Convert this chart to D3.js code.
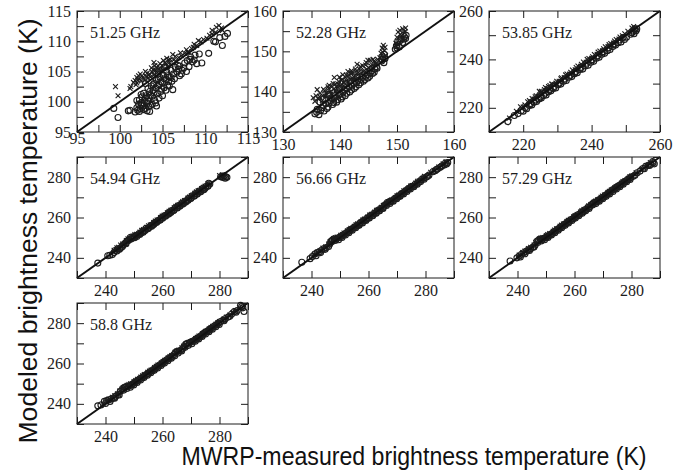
<!DOCTYPE html>
<html>
<head>
<meta charset="utf-8">
<script src="https://cdn.jsdelivr.net/npm/d3@7"></script>
<style>
  body { margin: 0; background: #fff; }
</style>
</head>
<body>
<script>
// panel titles and axis setup
const panelNames = ['51.25 GHz', '52.28 GHz', '53.85 GHz', '54.94 GHz', '56.66 GHz', '57.29 GHz', '58.8 GHz'];
const panelDomains = [[95, 115], [130, 160], [210, 260], [230, 290], [230, 290], [230, 290], [230, 290]];
const tickSteps = [2.5, 5, 10, 10, 10, 10, 10];
const tickLabels = [
    [95, 100, 105, 110, 115],
    [130, 140, 150, 160],
    [220, 240, 260],
    [240, 260, 280],
    [240, 260, 280],
    [240, 260, 280],
    [240, 260, 280]
];

// [measured, modeled] pairs
// 51.25 GHz
const f5125Cross = [[99.5,102.5],[99.8,101],[101.2,102.2],[101.3,102.5],[102,104],[102.2,104.3],[104,106.5],[105.5,107.2],[108,108.3],[108.7,109.5],[110.8,111.8],[111.3,112.3],[111.6,112.6],[111.9,112.2],[112,111.8],
    [101.6,103.2],[101.8,103.5],[102.0,103.1],[102.3,103.8],[102.5,103.4],[102.7,104.0],[102.9,103.6],[103.1,104.2],[103.3,103.9],[103.5,104.6],[103.6,104.1],[103.8,104.9],[104.0,104.4],[104.2,105.2],[104.4,104.8],[104.6,105.5],[104.8,105.1],[105.0,105.9],[105.2,105.4],[105.4,106.2],[105.6,105.8],[105.8,106.5],[106.0,106.1],[106.3,106.9],[106.6,106.7],[106.9,107.3],[107.2,107.6],[107.6,108.0],[108.0,108.2],[108.4,108.8],[109.0,109.3],[109.5,109.9],[110.2,110.5],[110.8,111.2],[111.2,111.5],[103.0,105.0],[104.1,106.0],[102.4,104.6],[103.7,105.6],[105.1,106.8],
    [102.1,103.6],[102.6,104.3],[103.2,104.7],[103.9,105.3],[104.5,105.9],[105.3,106.5],[105.9,107.0],[106.5,107.5],[107.1,108.1],[107.8,108.6],[108.6,109.0],[109.2,110.1],[109.8,110.3],[110.5,111.0],[101.9,102.8],[103.4,104.4],[104.7,106.3],[106.2,107.8],[104.3,105.6],[105.7,106.9]];
const f5125Circle = [[99.3,98.9],[99.8,97.4],[101.0,98.5],[101.2,98.6],[103.5,98.4],[104.3,99.3],[106.2,102.0],[107.0,104.3],
    [101.8,98.3],[102.0,99.0],[102.1,98.6],[102.2,99.6],[102.3,100.3],[102.4,98.9],[102.5,99.8],[102.6,100.8],[102.7,99.3],[102.8,101.4],[102.9,100.2],[103.0,98.9],[103.1,101.0],[103.2,99.7],[103.3,102.2],[103.4,100.6],[103.5,101.7],[103.6,99.4],[103.7,102.6],[103.8,100.9],[103.9,101.9],[104.0,103.0],[104.1,100.2],[104.2,102.3],[104.3,103.6],[104.4,101.3],[104.6,102.8],[104.7,104.0],[104.8,101.7],[105.0,103.2],[105.1,104.4],[105.2,102.3],[105.4,103.7],[105.5,104.9],[105.6,102.7],[105.8,104.1],[106.0,105.2],[106.1,103.4],[106.3,104.6],[106.5,105.7],[106.7,104.9],[107.0,105.9],[107.3,105.2],[107.6,106.4],[107.9,106.8],[108.1,105.8],[108.3,107.4],[108.5,106.6],[108.8,107.7],[109.0,106.3],[109.6,106.4],[110.4,108.0],[111.0,110.0],[111.2,109.9],[112.0,109.3],[111.7,110.6],[112.6,111.3],[112.3,110.8],[103.0,103.0],[104.5,104.6],[105.2,105.7],
    [102.0,100.2],[102.3,98.4],[102.5,101.2],[102.8,98.7],[103.0,100.6],[103.2,98.5],[103.4,99.2],[103.6,101.1],[103.8,99.6],[104.0,101.5],[104.2,99.8],[104.4,102.6],[104.6,100.6],[104.8,103.3],[105.0,101.0],[105.2,103.8],[105.4,101.9],[105.6,104.3],[105.8,102.6],[106.0,104.0],[106.4,103.8],[106.8,106.0],[107.2,104.6],[107.5,105.6],[107.8,105.0],[108.2,107.0],[108.7,106.9],[109.3,107.9],[102.6,99.5],[103.3,100.1],[104.9,102.1],[105.7,103.3],[103.9,102.8],[104.5,103.8],[106.9,105.4]];

// 52.28 GHz
const f5228Cross = [[135.3,138.5],[135.8,139.0],[136.2,138.2],[136.5,139.6],[137.0,139.0],[137.3,140.2],[137.6,139.5],[138.0,140.8],[138.3,140.0],[138.6,141.3],[138.9,140.6],[139.2,141.9],[139.5,141.0],[139.8,142.5],[140.1,141.6],[140.4,143.0],[140.7,142.2],[141.0,143.5],[141.3,142.6],[141.6,144.0],[141.9,143.1],[142.2,144.6],[142.5,143.6],[142.8,145.0],[143.1,144.1],[143.4,145.6],[143.7,144.7],[144.0,146.4],[144.3,145.2],[144.6,147.2],[145.0,146.0],[145.3,147.8],[145.7,146.6],[146.0,147.6],[146.3,146.8],[147.2,149.5],[147.4,150.8],[147.6,151.5],[147.8,150.2],[148.0,149.0],[149.8,152.0],[150.0,153.5],[150.2,154.8],[150.5,155.2],[150.8,153.8],[151.0,155.6],[151.3,154.6],[151.5,155.8],[149.9,151.2],[139.0,143.5],[140.5,144.2],[142.0,145.2],[136.0,140.5],
    [135.6,137.6],[136.4,138.8],[136.9,137.8],[137.4,138.9],[137.9,141.2],[138.4,139.4],[138.8,142.0],[139.3,140.2],[139.7,141.8],[140.2,142.8],[140.6,141.4],[141.1,144.1],[141.5,142.4],[141.9,144.6],[142.3,143.2],[142.7,145.6],[143.2,144.8],[143.6,146.2],[144.1,145.0],[144.5,146.6],[144.9,147.8],[145.4,146.4],[145.8,148.0],[146.2,147.0],[146.6,148.0],[147.0,148.4],[147.5,149.8],[147.9,151.0],[150.1,151.8],[150.6,154.2],[151.1,153.0],[151.4,155.0],[138.1,141.6],[139.9,143.6],[141.4,145.0],[143.0,146.8],[137.1,140.6],[140.3,140.8],[142.6,142.8],[144.8,145.4]];
const f5228Circle = [[135.6,134.5],[136.3,134.3],[136.0,135.6],[136.8,136.0],[137.2,135.2],[137.5,137.0],[137.9,136.2],[138.3,137.8],[138.7,136.8],[139.0,138.4],[139.4,137.4],[139.8,139.2],[140.2,138.2],[140.5,139.8],[140.9,139.0],[141.3,140.7],[141.7,139.9],[142.1,141.4],[142.5,140.8],[142.9,142.2],[143.3,141.7],[143.7,143.0],[144.1,142.6],[144.5,143.8],[144.9,143.4],[145.3,144.6],[145.7,144.5],[146.1,145.6],[146.5,145.8],[147.3,147.6],[147.5,148.6],[147.7,147.2],[147.9,148.2],[149.7,150.5],[149.9,151.4],[150.1,152.3],[150.4,151.1],[150.7,153.0],[151.0,152.2],[151.3,153.6],[151.6,154.0],[137.0,138.2],[139.5,140.4],[141.0,142.0],[143.0,143.6],[138.2,139.0],
    [135.9,134.9],[136.6,135.3],[137.1,136.6],[137.7,135.8],[138.1,137.2],[138.5,138.3],[138.9,137.3],[139.2,139.0],[139.6,138.0],[140.0,139.4],[140.4,138.7],[140.8,140.4],[141.2,139.6],[141.6,141.2],[142.0,140.4],[142.4,142.0],[142.8,141.2],[143.2,142.8],[143.6,142.2],[144.0,143.6],[144.4,143.0],[144.8,144.2],[145.2,143.8],[145.6,145.2],[146.0,144.8],[146.4,146.2],[147.4,148.0],[147.8,149.2],[150.0,150.8],[150.5,152.6],[151.2,153.0],[151.5,153.2],[136.5,137.4],[138.0,139.4],[139.9,140.9],[141.8,142.6]];

// 53.85 GHz
const f5385Cross = [[216.0,215.8],[219.2,220.4],[220.5,221.2],[221.3,222.5],[222.0,222.4],[222.6,223.8],[223.2,223.6],[223.8,225.0],[224.4,224.8],[225.0,226.3],[225.6,226.0],[226.2,227.5],[226.8,227.2],[227.4,228.8],[228.0,228.4],[228.6,229.7],[229.2,229.6],[229.8,231.0],[230.5,231.0],[231.2,232.4],[232.0,232.5],[232.8,234.0],[233.6,234.0],[234.4,235.6],[235.2,235.7],[236.0,237.3],[236.8,237.2],[237.6,238.9],[238.4,238.8],[239.2,240.4],[240.0,240.5],[240.8,242.0],[241.6,242.1],[242.4,243.5],[243.2,243.6],[244.0,245.2],[244.8,245.3],[245.6,246.6],[246.4,246.8],[247.2,248.2],[248.0,248.4],[249.0,249.8],[251.8,253.0],[252.3,253.6],[252.8,252.4],
    [218.0,218.6],[220.0,220.3],[221.8,223.0],[223.5,224.6],[225.3,226.8],[227.0,228.0],[228.3,229.8],[229.6,230.2],[231.0,232.0],[232.4,233.6],[233.9,234.7],[235.5,236.6],[237.0,238.0],[238.7,240.0],[240.3,241.1],[241.9,243.0],[243.5,244.4],[245.1,246.1],[246.7,247.6],[248.3,249.2],[249.7,250.6],[250.6,251.6],[252.0,252.0],[224.7,226.8],[226.5,228.4],[227.8,229.2]];
const f5385Circle = [[215.5,214.3],[218.5,217.6],[220.0,218.6],[221.0,219.6],[221.8,221.0],[222.5,221.2],[223.2,222.3],[223.9,222.6],[224.6,223.6],[225.3,224.0],[226.0,225.1],[226.7,225.3],[227.4,226.6],[228.1,227.0],[228.8,228.0],[229.5,228.2],[230.2,229.5],[231.0,229.8],[231.8,231.0],[232.6,231.3],[233.4,232.6],[234.2,232.9],[235.0,234.1],[235.8,234.5],[236.6,235.8],[237.4,236.0],[238.2,237.3],[239.0,237.6],[239.8,238.8],[240.6,239.2],[241.4,240.5],[242.2,240.9],[243.0,242.1],[243.8,242.5],[244.6,243.6],[245.4,244.1],[246.2,245.3],[247.0,245.9],[247.8,246.9],[248.6,247.2],[249.6,248.2],[251.8,251.0],[252.4,250.6],[253.0,251.8],[252.6,252.6],
    [217.4,216.8],[219.4,218.8],[220.6,220.0],[222.2,221.8],[223.6,223.2],[225.0,224.5],[226.4,226.0],[227.8,227.6],[229.1,228.8],[230.6,230.2],[232.2,231.9],[233.8,233.4],[235.4,235.0],[236.9,236.7],[238.6,238.4],[240.2,239.9],[241.8,241.5],[243.4,243.2],[245.0,244.8],[246.6,246.4],[248.2,248.0],[249.2,249.0],[250.2,249.2],[251.4,250.4],[253.2,252.6],[252.2,251.6]];

// 54.94 GHz
const f5494Cross = [[243.0,243.8],[244.6,245.2],[246.0,246.9],[247.3,248.6],[248.5,249.8],[249.7,250.8],[250.9,251.7],[252.1,252.8],[253.3,254.0],[254.5,255.1],[255.7,256.3],[256.9,257.5],[258.1,258.8],[259.3,260.0],[260.5,261.1],[261.7,262.3],[262.9,263.6],[264.1,264.8],[265.3,266.0],[266.5,267.2],[267.7,268.4],[268.9,269.6],[270.1,270.8],[271.3,272.0],[272.5,273.2],[273.7,274.3],[274.9,275.5],[280.0,280.8],[281.0,281.2],
    [244.0,245.0],[245.3,246.4],[247.9,249.4],[250.3,251.5],[252.7,253.6],[255.1,255.9],[257.5,258.2],[259.9,260.7],[262.3,263.1],[264.7,265.5],[267.1,267.9],[269.5,270.2],[271.9,272.7],[274.3,275.0],[276.0,276.8]];
const f5494Circle = [[237.3,237.4],[240.8,241.0],[241.5,241.3],[242.4,241.6],[243.4,243.6],[244.2,244.4],[244.9,244.2],[245.6,245.3],[246.3,246.6],[247.0,247.4],[247.6,248.3],[248.2,249.0],[248.8,250.2],[249.4,250.0],[250.0,250.6],[250.6,250.9],[251.2,251.3],[251.8,252.0],[252.4,252.2],[253.0,253.1],[253.6,253.4],[254.2,254.6],[254.8,254.5],[255.4,255.2],[256.0,256.1],[256.6,256.3],[257.2,257.4],[257.8,257.6],[258.4,258.5],[259.0,258.8],[259.6,259.8],[260.2,260.0],[260.8,261.0],[261.4,261.1],[262.0,262.2],[262.6,262.3],[263.2,263.4],[263.8,263.5],[264.4,264.7],[265.0,264.8],[265.6,265.9],[266.2,265.8],[266.8,267.1],[267.4,267.0],[268.0,268.2],[268.6,268.4],[269.2,269.5],[269.8,269.4],[270.4,270.7],[271.0,270.6],[271.6,271.9],[272.2,271.7],[272.8,273.1],[273.4,272.8],[274.0,274.2],[274.6,273.9],[275.2,275.4],[275.9,275.5],[276.6,276.6],[280.4,280.2],[281.2,279.8],[282.0,279.5],[282.6,279.9],[281.6,280.6],
    [243.0,242.6],[244.0,243.4],[245.1,244.7],[246.0,245.7],[247.2,247.0],[248.0,248.6],[249.0,249.4],[250.2,250.0],[251.0,250.6],[252.0,251.6],[253.2,252.7],[254.0,253.7],[255.0,254.6],[256.2,255.7],[257.0,256.6],[258.0,257.7],[259.2,258.7],[260.0,259.6],[261.0,260.6],[262.2,261.7],[263.0,262.6],[264.0,263.6],[265.2,264.7],[266.0,265.6],[267.0,266.6],[268.2,267.7],[269.0,268.6],[270.0,269.6],[271.2,270.7],[272.0,271.6],[273.0,272.6],[274.2,273.6],[275.0,274.6],[276.0,275.7],[276.2,277.0],[280.9,280.5],[282.2,280.2]];

// 56.66 GHz
const f5666Cross = [[241.0,241.8],[243.0,243.6],[245.0,245.5],[246.5,247.8],[247.8,249.6],[249.0,250.3],[250.2,251.2],[251.4,252.3],[252.6,253.4],[253.8,254.6],[255.0,255.7],[256.2,256.9],[257.4,258.0],[258.6,259.2],[259.8,260.4],[261.0,261.6],[262.2,262.7],[263.4,263.9],[264.6,265.1],[265.8,266.4],[267.0,267.8],[268.2,268.8],[269.4,269.9],[270.6,271.1],[271.8,272.3],[273.0,273.5],[274.2,274.7],[275.4,275.9],[276.6,277.1],[277.8,278.2],[279.0,279.4],[283.0,283.4],[284.6,285.0],[286.2,286.6],[287.2,287.6],
    [242.0,242.8],[244.0,244.8],[246.0,246.8],[248.4,250.0],[250.8,251.6],[253.2,254.0],[255.6,256.4],[258.0,258.8],[260.4,261.2],[262.8,263.6],[265.2,266.0],[267.6,268.4],[270.0,270.8],[272.4,273.2],[274.8,275.6],[277.2,278.0],[279.6,280.4],[281.8,282.4]];
const f5666Circle = [[236.6,237.8],[239.5,239.6],[240.3,240.6],[241.2,241.9],[242.0,242.6],[242.8,243.0],[243.6,243.9],[244.4,244.6],[245.2,245.1],[246.0,245.6],[246.8,248.2],[247.4,248.9],[248.0,249.4],[248.6,249.2],[249.2,249.8],[249.8,250.2],[250.4,250.6],[251.0,251.2],[251.6,251.8],[252.2,252.4],[252.8,252.9],[253.4,253.6],[254.0,254.1],[254.6,254.8],[255.2,255.2],[255.8,256.0],[256.4,256.3],[257.0,257.2],[257.6,257.5],[258.2,258.5],[258.8,258.7],[259.4,259.6],[260.0,259.9],[260.6,260.8],[261.2,261.0],[261.8,262.0],[262.4,262.2],[263.0,263.2],[263.6,263.4],[264.2,264.4],[264.8,264.6],[265.4,265.6],[266.0,266.4],[266.6,267.4],[267.2,267.6],[267.8,268.0],[268.4,268.3],[269.0,269.2],[269.6,269.5],[270.2,270.4],[270.8,270.7],[271.4,271.6],[272.0,272.0],[272.6,272.8],[273.2,273.4],[273.8,274.1],[274.4,274.5],[275.0,275.3],[275.6,275.5],[276.3,276.4],[277.0,277.0],[277.8,277.6],[278.6,278.8],[279.4,279.6],[280.3,280.1],[281.2,281.0],[282.6,282.7],[283.4,283.2],[284.2,284.0],[285.0,284.8],[285.8,285.6],[286.6,286.0],[287.4,286.5],[287.8,287.3],
    [241.6,241.0],[243.2,242.6],[244.8,244.2],[246.4,246.8],[247.1,248.0],[248.3,248.6],[249.5,249.0],[250.7,250.1],[251.9,251.3],[253.1,252.5],[254.3,253.7],[255.5,254.9],[256.7,256.1],[257.9,257.3],[259.1,258.5],[260.3,259.7],[261.5,260.9],[262.7,262.1],[263.9,263.3],[265.1,264.5],[266.3,266.0],[267.5,267.0],[268.7,268.1],[269.9,269.3],[271.1,270.5],[272.3,271.7],[273.5,272.9],[274.7,274.1],[275.9,275.3],[277.1,276.5],[278.3,277.8],[279.5,279.0],[280.7,280.4],[283.8,283.8],[285.4,285.2],[287.0,287.0]];

// 57.29 GHz
const f5729Cross = [[240.6,241.4],[242.6,243.4],[244.6,245.2],[246.4,247.6],[247.7,249.4],[248.9,250.1],[250.1,251.0],[251.3,252.1],[252.5,253.2],[253.7,254.4],[254.9,255.6],[256.1,256.8],[257.3,258.0],[258.5,259.1],[259.7,260.4],[260.9,261.5],[262.1,262.7],[263.3,263.9],[264.5,265.1],[265.7,266.4],[266.9,267.7],[268.1,268.8],[269.3,270.0],[270.5,271.1],[271.7,272.4],[272.9,273.6],[274.1,274.7],[275.3,275.9],[276.5,277.1],[277.7,278.3],[278.9,279.5],[280.1,280.6],[283.5,283.9],[285.2,285.8],[286.6,287.2],
    [241.8,242.6],[243.8,244.6],[245.8,246.4],[248.2,249.8],[250.6,251.5],[253.0,253.8],[255.4,256.2],[257.8,258.6],[260.2,261.0],[262.6,263.4],[265.0,265.8],[267.4,268.2],[269.8,270.6],[272.2,273.0],[274.6,275.4],[277.0,277.8],[279.4,280.2],[281.6,282.2]];
const f5729Circle = [[237.4,238.4],[239.8,240.0],[240.6,240.9],[241.4,241.8],[242.2,242.5],[243.0,243.2],[243.8,244.0],[244.6,244.5],[245.4,245.3],[246.2,246.4],[246.8,248.2],[247.4,248.8],[248.0,249.3],[248.6,249.0],[249.2,249.7],[249.8,250.0],[250.4,250.5],[251.0,251.1],[251.6,251.7],[252.2,252.2],[252.8,252.9],[253.4,253.4],[254.0,254.2],[254.6,254.6],[255.2,255.4],[255.8,255.8],[256.4,256.6],[257.0,257.0],[257.6,257.8],[258.2,258.2],[258.8,259.0],[259.4,259.4],[260.0,260.2],[260.6,260.6],[261.2,261.4],[261.8,261.7],[262.4,262.6],[263.0,262.9],[263.6,263.8],[264.2,264.1],[264.8,265.0],[265.4,265.4],[266.0,266.4],[266.6,267.2],[267.2,267.5],[267.8,267.9],[268.4,268.6],[269.0,269.0],[269.6,269.8],[270.2,270.2],[270.8,271.0],[271.4,271.5],[272.0,272.3],[272.6,272.7],[273.2,273.6],[273.8,274.0],[274.4,274.6],[275.0,275.2],[275.6,275.8],[276.2,276.4],[276.8,276.9],[277.4,277.6],[278.0,278.1],[278.6,278.8],[279.2,279.3],[279.8,280.0],[280.6,280.4],[282.0,282.2],[283.0,283.0],[284.0,284.3],[285.0,285.4],[285.8,285.9],[286.8,286.4],[287.6,287.2],[288.0,286.6],
    [241.0,240.4],[242.6,242.0],[244.2,243.6],[245.8,245.4],[247.1,247.6],[248.3,248.4],[249.5,249.0],[250.7,250.1],[251.9,251.3],[253.1,252.5],[254.3,253.7],[255.5,254.9],[256.7,256.1],[257.9,257.3],[259.1,258.5],[260.3,259.7],[261.5,260.9],[262.7,262.1],[263.9,263.3],[265.1,264.5],[266.3,266.2],[267.5,266.9],[268.7,268.1],[269.9,269.3],[271.1,270.5],[272.3,271.7],[273.5,272.9],[274.7,274.1],[275.9,275.3],[277.1,276.5],[278.3,277.7],[279.5,278.9],[281.2,281.0],[284.5,284.2],[286.3,285.8],[287.4,287.8]];

// 58.8 GHz
const f5880Cross = [[239.2,240.2],[241.2,242.4],[243.2,244.0],[245.0,246.4],[246.4,248.0],[247.6,249.2],[248.8,249.9],[250.0,251.0],[251.2,252.2],[252.4,253.3],[253.6,254.5],[254.8,255.6],[256.0,256.8],[257.2,258.0],[258.4,259.2],[259.6,260.4],[260.8,261.6],[262.0,262.8],[263.2,264.0],[264.4,265.6],[265.6,266.6],[266.8,267.8],[268.0,269.4],[269.2,270.4],[270.4,271.2],[271.6,272.4],[272.8,273.6],[274.0,274.8],[275.2,276.0],[276.4,277.2],[277.6,278.4],[278.8,279.6],[280.0,280.8],[281.6,282.2],[283.6,284.0],[285.6,286.2],[287.0,287.8],
    [240.4,241.4],[242.4,243.2],[244.2,245.0],[246.0,247.2],[248.2,249.6],[250.6,251.6],[253.0,253.9],[255.4,256.2],[257.8,258.6],[260.2,261.0],[262.6,263.4],[265.0,266.2],[267.4,268.6],[269.8,270.8],[272.2,273.0],[274.6,275.4],[277.0,277.8],[279.4,280.2],[282.4,283.0],[284.6,285.2]];
const f5880Circle = [[237.3,239.0],[238.4,239.4],[239.6,241.2],[240.4,241.6],[241.2,242.0],[242.0,242.4],[242.8,242.9],[243.6,243.8],[244.4,244.6],[245.2,246.2],[246.0,247.6],[246.6,248.2],[247.2,248.4],[247.8,248.6],[248.4,249.0],[249.0,249.4],[249.6,249.9],[250.2,250.6],[250.8,251.1],[251.4,251.7],[252.0,252.4],[252.6,252.8],[253.2,253.4],[253.8,254.0],[254.4,254.7],[255.0,255.1],[255.6,255.9],[256.2,256.4],[256.8,257.0],[257.4,257.5],[258.0,258.3],[258.6,258.8],[259.2,259.5],[259.8,260.0],[260.4,260.7],[261.0,261.4],[261.6,262.0],[262.2,262.5],[262.8,263.0],[263.4,263.6],[264.0,264.5],[264.6,265.6],[265.2,266.0],[265.8,266.2],[266.4,266.6],[267.0,267.3],[267.6,268.4],[268.2,269.6],[268.8,270.0],[269.4,270.2],[270.0,270.6],[270.6,271.0],[271.2,271.5],[271.8,272.1],[272.4,272.6],[273.0,273.3],[273.6,273.8],[274.2,274.5],[274.8,275.3],[275.4,275.8],[276.0,276.3],[276.6,276.9],[277.2,277.4],[277.8,278.2],[278.4,278.8],[279.0,279.2],[279.6,280.0],[280.4,280.8],[281.2,281.4],[282.0,282.2],[283.0,283.0],[284.2,284.4],[285.2,285.7],[286.2,286.3],[287.4,288.8],[288.6,285.8],[288.2,287.6],
    [240.0,240.2],[241.6,241.2],[243.2,242.8],[244.8,244.4],[246.4,246.8],[247.5,247.6],[248.7,248.2],[249.9,249.4],[251.1,250.6],[252.3,251.8],[253.5,253.0],[254.7,254.2],[255.9,255.4],[257.1,256.6],[258.3,257.8],[259.5,259.0],[260.7,260.2],[261.9,261.4],[263.1,262.6],[264.3,263.8],[265.5,265.2],[266.7,266.2],[267.9,268.0],[269.1,269.0],[270.3,269.8],[271.5,271.0],[272.7,272.2],[273.9,273.4],[275.1,274.6],[276.3,275.8],[277.5,277.0],[278.7,278.2],[279.9,279.4],[281.6,281.2],[283.6,283.4],[285.8,285.4],[287.8,288.2]];

const crossSets = [f5125Cross, f5228Cross, f5385Cross, f5494Cross, f5666Cross, f5729Cross, f5880Cross];
const circleSets = [f5125Circle, f5228Circle, f5385Circle, f5494Circle, f5666Circle, f5729Circle, f5880Circle];

//
// LAYOUT
const WIDTH = 691, HEIGHT = 472;
const COL_X = [77, 283, 489];
const ROW_Y = [11, 157, 303];
const PW = 171, PH = 121;
const TICK = 7;
const INK = '#1c1c1c';
const SERIF = '"Liberation Serif", "Times New Roman", serif';
const SANS = '"Liberation Sans", Arial, Helvetica, sans-serif';

const svg = d3.select('body').append('svg')
    .attr('width', WIDTH)
    .attr('height', HEIGHT);
svg.append('rect').attr('width', WIDTH).attr('height', HEIGHT).attr('fill', '#fff');

function styleAxis(sel) {
    sel.select('.domain').remove();
    sel.selectAll('.tick line').attr('stroke', INK).attr('stroke-width', 1);
    sel.selectAll('.tick text')
        .attr('fill', INK)
        .style('font-family', SERIF)
        .style('font-size', '16px');
}

panelNames.forEach(function (name, i) {
    const dom = panelDomains[i];
    const g = svg.append('g')
        .attr('transform', 'translate(' + COL_X[i % 3] + ',' + ROW_Y[Math.floor(i / 3)] + ')');
    const x = d3.scaleLinear().domain(dom).range([0, PW]);
    const y = d3.scaleLinear().domain(dom).range([PH, 0]);
    const ticks = d3.range(dom[0], dom[1] + 0.001, tickSteps[i]);
    const labels = tickLabels[i];
    const fmt = function (d) { return labels.indexOf(d) >= 0 ? d : ''; };

    // points first, diagonal on top
    const pts = g.append('g');
    pts.selectAll('circle')
        .data(circleSets[i])
        .enter()
        .append('circle')
        .attr('cx', function (d) { return x(d[0]); })
        .attr('cy', function (d) { return y(d[1]); })
        .attr('r', 3)
        .attr('fill', 'none')
        .attr('stroke', INK)
        .attr('stroke-width', 1.1);
    pts.selectAll('path')
        .data(crossSets[i])
        .enter()
        .append('path')
        .attr('transform', function (d) { return 'translate(' + x(d[0]) + ',' + y(d[1]) + ')'; })
        .attr('d', 'M-2.4,-2.4L2.4,2.4M-2.4,2.4L2.4,-2.4')
        .attr('stroke', INK)
        .attr('stroke-width', 1.1);

    g.append('line')
        .attr('x1', x(dom[0])).attr('y1', y(dom[0]))
        .attr('x2', x(dom[1])).attr('y2', y(dom[1]))
        .attr('stroke', '#111')
        .attr('stroke-width', 2);

    // axes, ticks pointing inward on all four sides
    g.append('g')
        .attr('transform', 'translate(0,' + PH + ')')
        .call(d3.axisBottom(x).tickValues(ticks).tickSizeInner(-TICK).tickSizeOuter(0)
            .tickPadding(i === 0 ? 1 : 7).tickFormat(fmt))
        .call(styleAxis);
    g.append('g')
        .call(d3.axisLeft(y).tickValues(ticks).tickSizeInner(-TICK).tickSizeOuter(0)
            .tickPadding(6).tickFormat(fmt))
        .call(styleAxis);
    g.append('g')
        .call(d3.axisTop(x).tickValues(ticks).tickSizeInner(-TICK).tickSizeOuter(0).tickFormat(''))
        .call(styleAxis);
    g.append('g')
        .attr('transform', 'translate(' + PW + ',0)')
        .call(d3.axisRight(y).tickValues(ticks).tickSizeInner(-TICK).tickSizeOuter(0).tickFormat(''))
        .call(styleAxis);

    g.append('rect')
        .attr('width', PW).attr('height', PH)
        .attr('fill', 'none')
        .attr('stroke', INK)
        .attr('stroke-width', 1);

    g.append('text')
        .attr('x', 13)
        .attr('y', 27)
        .attr('fill', INK)
        .style('font-family', SERIF)
        .style('font-size', '16px')
        .text(name);
});

//
// AXIS TITLES
svg.append('text')
    .attr('transform', 'translate(37,231) rotate(-90)')
    .attr('text-anchor', 'middle')
    .attr('fill', '#111')
    .attr('textLength', 425)
    .attr('lengthAdjust', 'spacingAndGlyphs')
    .style('font-family', SANS)
    .style('font-size', '25px')
    .text('Modeled brightness temperature (K)');

svg.append('text')
    .attr('x', 414)
    .attr('y', 465)
    .attr('text-anchor', 'middle')
    .attr('fill', '#111')
    .attr('textLength', 465)
    .attr('lengthAdjust', 'spacingAndGlyphs')
    .style('font-family', SANS)
    .style('font-size', '25px')
    .text('MWRP-measured brightness temperature (K)');
</script>
</body>
</html>
